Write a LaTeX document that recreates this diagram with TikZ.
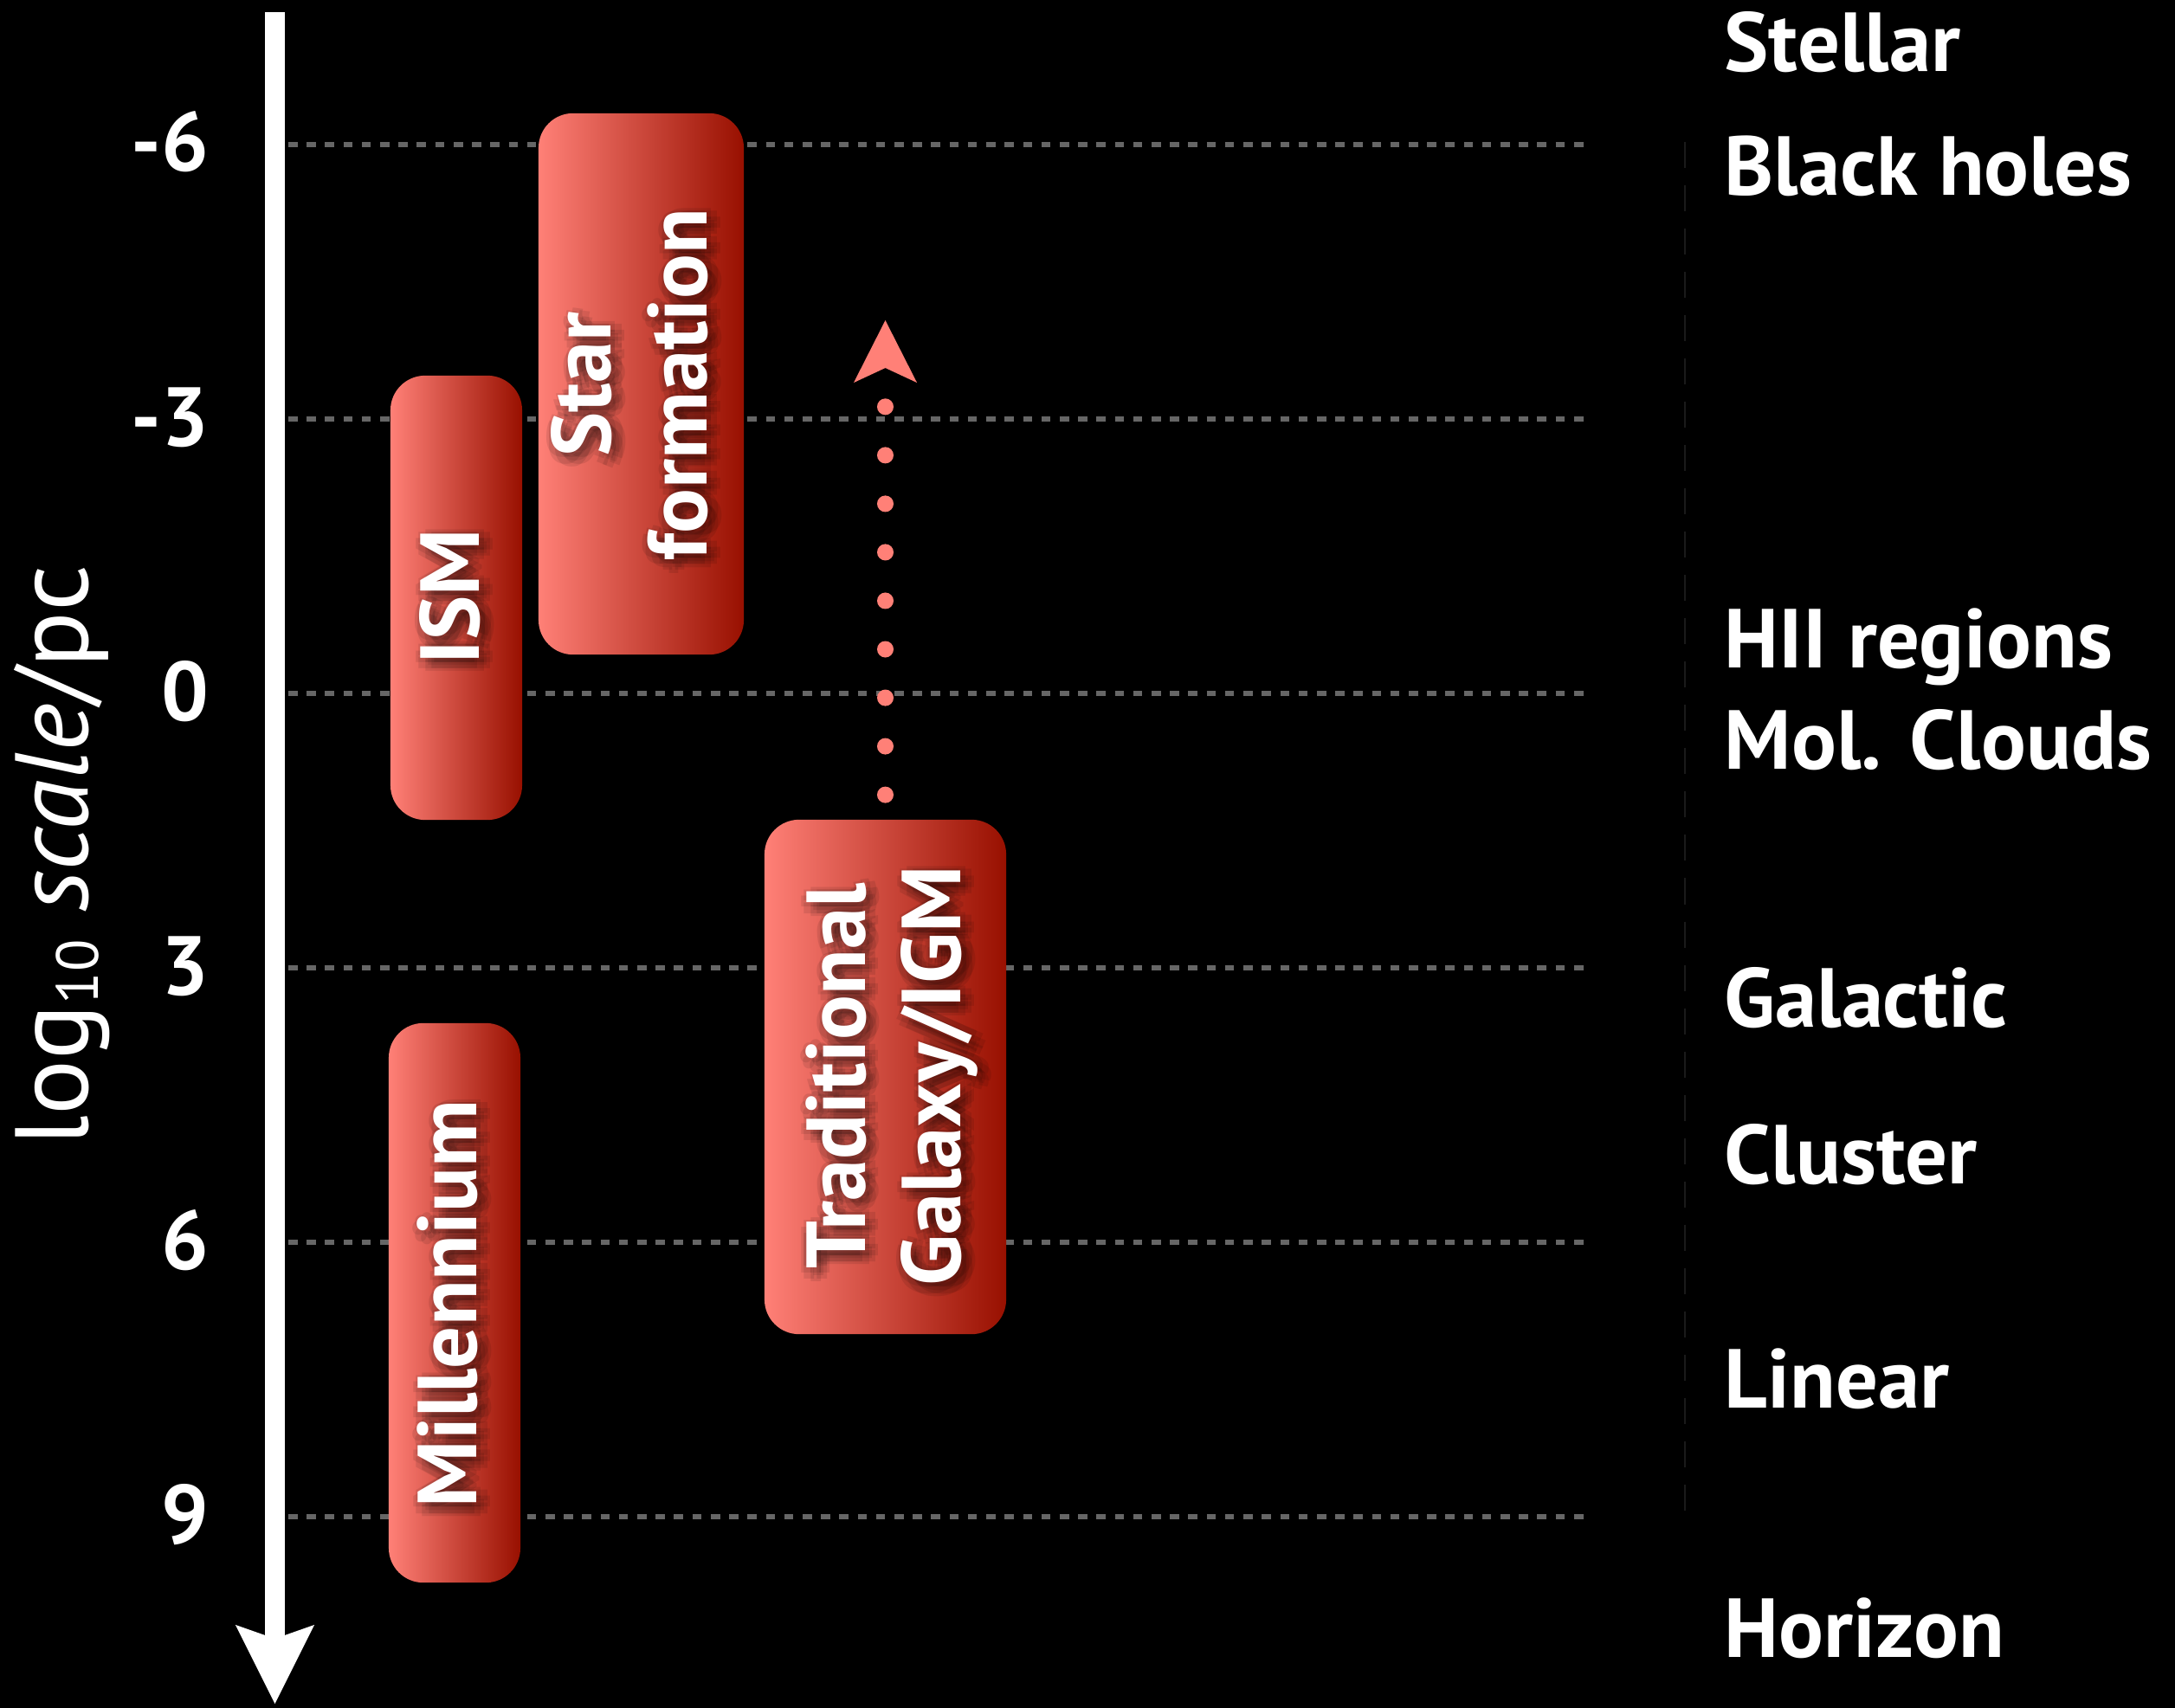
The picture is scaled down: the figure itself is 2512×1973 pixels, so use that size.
\documentclass[tikz,border=0pt]{standalone}
\usepackage{fontspec}
\setmainfont{PT Sans}
\usetikzlibrary{arrows.meta}

\definecolor{bandlight}{RGB}{255,128,119}
\definecolor{banddark}{RGB}{152,16,0}
\definecolor{gridgray}{RGB}{102,102,102}
\definecolor{dotsalmon}{RGB}{255,128,119}
\definecolor{faintgray}{RGB}{26,26,26}

% white band label with a soft dark halo behind it
\newcommand\bandlabel[3]{%
  \foreach \sx/\sy [count=\k] in {4.5/-1.5, -1.5/-1.5, 1.5/1.5, 1.5/-4.5,
                                  3.6/0.6, -0.6/0.6, -0.6/-3.6, 3.6/-3.6,
                                  1.5/-1.5, 2.5/-2.5}{
    \node[bandtxt, text=black, text opacity=0.09] (#1-halo\k)
      at ([xshift=\sx pt, yshift=\sy pt]#2) {#3};
  }
  \node[bandtxt] (#1) at (#2) {#3};
}

\begin{document}
\begin{tikzpicture}[x=0.01cm, y=-0.01cm,
  lbl/.style={text=white, inner sep=0pt, font=\bfseries\fontsize{27.5}{32}\selectfont},
  bandtxt/.style={text=white, inner sep=0pt, rotate=90, align=center,
    font=\bfseries\fontsize{27.5}{31.5}\selectfont},
  band/.style={rounded corners=0.4cm, left color=bandlight, right color=banddark,
    draw=none, inner sep=0pt},
  gridline/.style={draw=gridgray, line width=0.055cm, dash pattern=on 0.106cm off 0.106cm}]

% canvas
\fill[black] (0,0) rectangle (2512,1973);
\useasboundingbox (0,0) rectangle (2512,1973);

% faint vertical separator
\draw[faintgray, line width=0.02cm, dash pattern=on 0.3cm off 0.2cm] (1946,164) -- (1946,1755);

% scale ticks and dashed guide lines
\foreach \v/\yy in {-6/167, -3/484, 0/801, 3/1118, 6/1435, 9/1752}{
  \draw[gridline] (333,\yy) -- (1838,\yy);
  \node[lbl, anchor=base east] (tick\v) at (242,\yy+31) {\v};
}

% main axis arrow
\coordinate (axtop) at (317.5,14);
\coordinate (axtip) at (317.5,1968);
\draw[white, line width=0.23cm,
  -{Stealth[length=0.91cm, width=0.91cm, inset=0.16cm, line width=0pt]}] (axtop) -- (axtip);

% axis title
\node[text=white, rotate=90, inner sep=0pt, anchor=base,
  font=\fontsize{34}{38}\selectfont] (axlabel) at (101,988)
  {log\raisebox{-0.12cm}{\fontsize{19.5}{20}\selectfont 10} \textit{scale}/pc};

% simulation ranges
\node[band, minimum width=1.52cm, minimum height=5.13cm] (ism) at (527,690.5) {};
\node[band, minimum width=2.37cm, minimum height=6.25cm] (starform) at (740.5,443.5) {};
\node[band, minimum width=1.52cm, minimum height=6.46cm] (mill) at (525,1505) {};
\node[band, minimum width=2.79cm, minimum height=5.94cm] (trad) at (1022.5,1244) {};

\coordinate (ismtxt) at (520,689);
\coordinate (startxt) at (727,444);
\coordinate (milltxt) at (517,1506);
\coordinate (tradtxt) at (1030,1243);
\bandlabel{ismlabel}{ismtxt}{ISM}
\bandlabel{starlabel}{startxt}{Star\\formation}
\bandlabel{milllabel}{milltxt}{Millennium}
\bandlabel{tradlabel}{tradtxt}{Traditional\\Galaxy/IGM}

% dotted extension towards smaller scales
\coordinate (dottip) at (1022.5,370);
\draw[dotsalmon, line width=0.19cm, line cap=round, dash pattern=on 0pt off 0.56cm,
  -{Stealth[length=0.72cm, width=0.73cm, inset=0.17cm, line width=0pt]}]
  ([yshift=0.28cm]trad.north) -- (dottip);

% physical regimes
\node[lbl, anchor=base west] (stellar) at (1991,83) {Stellar};
\node[lbl, anchor=base west] (bholes) at (1991,226) {Black holes};
\node[lbl, anchor=base west] (hii) at (1991,771) {HII regions};
\node[lbl, anchor=base west] (molclouds) at (1991,888) {Mol. Clouds};
\node[lbl, anchor=base west] (galactic) at (1991,1186) {Galactic};
\node[lbl, anchor=base west] (cluster) at (1991,1367) {Cluster};
\node[lbl, anchor=base west] (linear) at (1991,1626) {Linear};
\node[lbl, anchor=base west] (horizon) at (1991,1914) {Horizon};
\end{tikzpicture}
\end{document}
